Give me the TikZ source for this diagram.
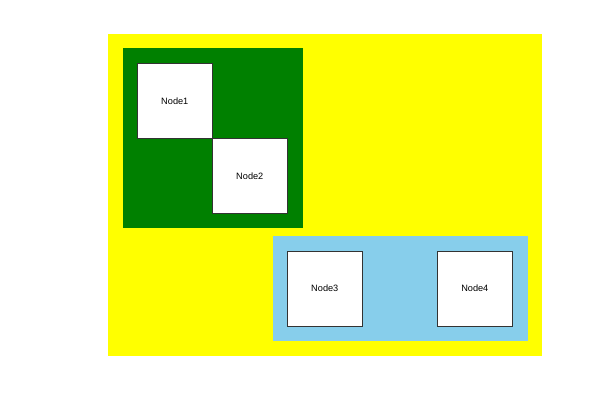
\documentclass[tikz,border=0pt]{standalone}
\usepackage{fontspec}
\setmainfont{Liberation Sans}
\definecolor{skyb}{HTML}{87CEEB}
\definecolor{dgreen}{HTML}{008000}
\definecolor{pureyellow}{HTML}{FFFF00}
\begin{document}
\begin{tikzpicture}[x=1pt,y=-1pt,
  nodebox/.style={draw=black!80,line width=0.8pt,fill=white,minimum width=75pt,minimum height=75pt,inner sep=0pt,font=\fontsize{9.2}{10}\selectfont},
  area/.style={draw=none,inner sep=0pt,anchor=north west}]
\useasboundingbox (0,0) rectangle (602,409);
\fill[pureyellow] (107.5,34) rectangle (541.7,355.5);
\fill[dgreen] (122.5,48.5) rectangle (302.5,228.3);
\fill[skyb] (272.5,236) rectangle (527.5,341);
\node[nodebox] (n1) at (174.8,100.8) {Node1};
\node[nodebox] (n2) at (249.8,175.8) {Node2};
\node[nodebox] (n3) at (324.8,288.4) {Node3};
\node[nodebox] (n4) at (474.8,288.4) {Node4};
\end{tikzpicture}
\end{document}
